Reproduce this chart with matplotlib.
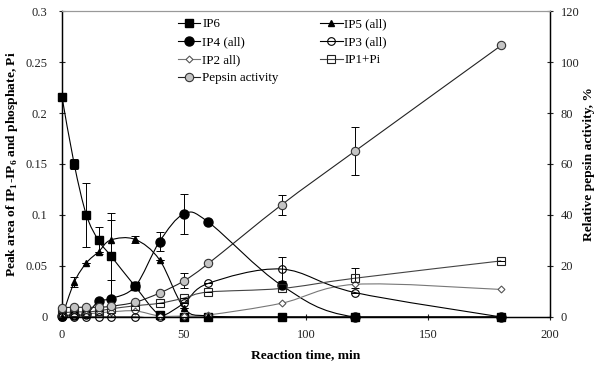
import matplotlib
matplotlib.use('Agg')
import matplotlib.pyplot as plt
import numpy as np
from matplotlib.path import Path
from matplotlib.patches import PathPatch
from matplotlib.lines import Line2D

plt.rcParams['font.family'] = ['Liberation Serif', 'DejaVu Serif']
plt.rcParams['mathtext.fontset'] = 'custom'
plt.rcParams['mathtext.rm'] = 'Liberation Serif'
plt.rcParams['mathtext.bf'] = 'Liberation Serif:bold'

# reaction time, min
time = [0, 5, 10, 15, 20, 30, 40, 50, 60, 90, 120, 180]

# peak areas (left axis)
ip6 = [0.216, 0.150, 0.100, 0.075, 0.060, 0.030, 0.002, 0.0, 0.0, 0.0, 0.0, 0.0]
ip5 = [0.0, 0.034, 0.053, 0.064, 0.0755, 0.076, 0.056, 0.009, 0.001, 0.0, 0.0, 0.0]
ip4 = [0.001, 0.002, 0.003, 0.0155, 0.018, 0.030, 0.074, 0.101, 0.093, 0.031, 0.0, 0.0]
ip3 = [0.0, 0.0, 0.0, 0.0, 0.0, 0.0, 0.0, 0.0137, 0.033, 0.047, 0.024, 0.0]
ip2 = [0.002, 0.002, 0.003, 0.004, 0.005, 0.006, 0.001, 0.001, 0.002, 0.0135, 0.032, 0.027]
ip1_pi = [0.004, 0.005, 0.005, 0.006, 0.008, 0.011, 0.0135, 0.0185, 0.0245, 0.028, 0.038, 0.055]

# relative pepsin activity, % (right axis)
pepsin = [3.7, 3.8, 3.8, 3.8, 4.2, 5.8, 9.4, 14.2, 21.0, 44.0, 65.0, 106.5]

# error bars
ip6_err = [0, 0.005, 0.031, 0.013, 0.042, 0, 0, 0, 0, 0, 0, 0]
ip5_err = [0, 0.005, 0, 0, 0.02, 0.003, 0, 0, 0, 0, 0, 0]
ip4_err = [0, 0, 0, 0, 0.018, 0, 0.009, 0.02, 0, 0, 0, 0]
ip3_err = [0, 0, 0, 0, 0, 0, 0, 0, 0, 0.012, 0, 0]
ip1_err = [0, 0, 0, 0, 0, 0, 0, 0, 0, 0, 0.01, 0]
pepsin_err = [0, 0, 0, 0, 0, 0, 0, 3.0, 0, 4.0, 9.5, 0]


def smooth_path(x, y):
    # Excel-like smoothed line as cubic Bezier segments
    pts = np.column_stack([x, y]).astype(float)
    n = len(pts)
    verts = [pts[0]]
    codes = [Path.MOVETO]
    for i in range(n - 1):
        p0 = pts[i - 1] if i > 0 else pts[i]
        p1 = pts[i]
        p2 = pts[i + 1]
        p3 = pts[i + 2] if i + 2 < n else pts[i + 1]
        verts += [p1 + (p2 - p0) / 6, p2 - (p3 - p1) / 6, p2]
        codes += [Path.CURVE4] * 3
    return Path(verts, codes)


fig = plt.figure(figsize=(6, 3.68), dpi=100)
ax = fig.add_axes([0.1033, 0.1386, 0.8134, 0.8315])
ax2 = ax.twinx()

series = [
    (ax, ip6, ip6_err, dict(marker='s', ms=6, mfc='black', mec='black'), 'black', 'IP6'),
    (ax, ip4, ip4_err, dict(marker='o', ms=6.5, mfc='black', mec='black'), 'black', 'IP4 (all)'),
    (ax, ip2, None, dict(marker='D', ms=3.5, mfc='white', mec='#555555', mew=0.8), '#777777', 'IP2 all)'),
    (ax2, pepsin, pepsin_err, dict(marker='o', ms=6, mfc='#c4c4c4', mec='#333333', mew=0.8), '#222222', 'Pepsin activity'),
    (ax, ip5, ip5_err, dict(marker='^', ms=4.5, mfc='black', mec='black'), 'black', 'IP5 (all)'),
    (ax, ip3, ip3_err, dict(marker='o', ms=5.5, mfc='none', mec='black', mew=0.8), 'black', 'IP3 (all)'),
    (ax, ip1_pi, ip1_err, dict(marker='s', ms=5.5, mfc='none', mec='#222222', mew=0.8), '#444444', 'IP1+Pi'),
]

handles = []
for a, vals, err, mk, lc, lab in series:
    a.add_patch(PathPatch(smooth_path(time, vals), facecolor='none',
                          edgecolor=lc, lw=0.8, zorder=2))
    if err is not None:
        a.errorbar(time, vals, yerr=err, fmt='none', ecolor='black',
                   elinewidth=0.7, capsize=3, capthick=0.7, zorder=3)
    a.plot(time, vals, linestyle='none', zorder=4, clip_on=False, **mk)
    handles.append(Line2D([], [], color=lc, lw=0.8, label=lab, **mk))

ax.set_xlim(0, 200)
ax.set_ylim(0, 0.3)
ax2.set_ylim(0, 120)
ax.set_xticks([0, 50, 100, 150, 200])
ax.set_yticks([0, 0.05, 0.1, 0.15, 0.2, 0.25, 0.3])
ax.set_yticklabels(['0', '0.05', '0.1', '0.15', '0.2', '0.25', '0.3'])
ax2.set_yticks([0, 20, 40, 60, 80, 100, 120])

for a in (ax, ax2):
    a.tick_params(direction='inout', length=5, width=0.8, labelsize=9, colors='#222222')
    a.spines['top'].set_color('#999999')
    a.spines['left'].set_linewidth(0.9)
    a.spines['right'].set_linewidth(0.9)
    a.spines['bottom'].set_linewidth(0.9)
ax.tick_params(axis='x', pad=6)
ax.tick_params(axis='y', pad=8)
ax2.tick_params(axis='y', pad=5)

ax.set_xlabel('Reaction time, min', fontsize=9.7, fontweight='bold', labelpad=6)
ax.set_ylabel(r'Peak area of IP$_\mathbf{1}$-IP$_\mathbf{6}$ and phosphate, Pi',
              fontsize=9.7, fontweight='bold', labelpad=4)
ax2.set_ylabel('Relative pepsin activity, %', fontsize=9.7, fontweight='bold', labelpad=3)

fig.legend(handles=handles, loc='upper left', bbox_to_anchor=(178 / 600, 1 - 18 / 368),
           ncol=2, frameon=False, fontsize=9.4, handlelength=1.7, handletextpad=0.15,
           columnspacing=3.2, labelspacing=0.45, borderpad=0, borderaxespad=0)

fig.savefig('out.png', dpi=100)
